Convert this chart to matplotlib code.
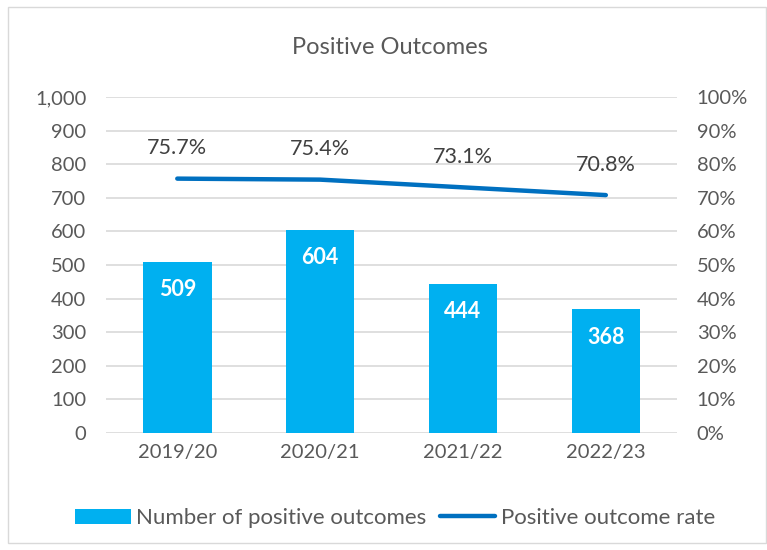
import matplotlib.pyplot as plt
from matplotlib.patches import Rectangle
from matplotlib.ticker import FuncFormatter, MultipleLocator

# datos
periodos = ["2019/20", "2020/21", "2021/22", "2022/23"]
resultados_positivos = [509, 604, 444, 368]
tasa_positiva = [0.757, 0.754, 0.731, 0.708]

plt.rcParams['font.family'] = ['Lato', 'DejaVu Sans']

color_barra = '#00B0F0'
color_linea = '#0070C0'
color_texto = '#595959'

fig = plt.figure(figsize=(7.67, 5.5), dpi=100)
ax = fig.add_axes([0.138, 0.2127, 0.745, 0.611])
ax2 = ax.twinx()

# marco del area del grafico
fig.patches.append(Rectangle((8 / 767, 7 / 550), 758 / 767, 536 / 550,
                             transform=fig.transFigure, fill=False,
                             edgecolor='#D9D9D9', linewidth=1.0))

x = list(range(len(periodos)))
barras = ax.bar(x, resultados_positivos, width=0.48, color=color_barra,
                label='Number of positive outcomes', zorder=2)
for xi, v in zip(x, resultados_positivos):
    ax.annotate(f"{v}", (xi, v), xytext=(0, -20), textcoords='offset points',
                ha='center', va='center', color='white', fontsize=15.5,
                fontweight='bold')

ax.set_xlim(-0.5, len(periodos) - 0.5)
ax.set_ylim(0, 1000)
ax.yaxis.set_major_locator(MultipleLocator(100))
ax.yaxis.set_major_formatter(FuncFormatter(lambda v, p: f"{int(v):,}"))
ax.grid(axis='y', color='#D9D9D9', linewidth=1.2, zorder=0)
ax.set_axisbelow(True)
ax.set_xticks(x)
ax.set_xticklabels(periodos)

linea, = ax2.plot(x, tasa_positiva, color=color_linea, linewidth=3.2,
                  solid_capstyle='round', label='Positive outcome rate', zorder=3)
for xi, v in zip(x, tasa_positiva):
    ax2.annotate(f"{v * 100:.1f}%", (xi, v), xytext=(0, 22),
                 textcoords='offset points', ha='center', va='center',
                 color='#404040', fontsize=15.5)
ax2.set_ylim(0, 1)
ax2.yaxis.set_major_locator(MultipleLocator(0.1))
ax2.yaxis.set_major_formatter(FuncFormatter(lambda v, p: f"{v * 100:.0f}%"))

for a in (ax, ax2):
    for s in a.spines.values():
        s.set_visible(False)
    a.tick_params(length=0, labelsize=14.5, labelcolor=color_texto)
ax.tick_params(axis='y', pad=14)
ax2.tick_params(axis='y', pad=14)
ax.tick_params(axis='x', pad=8)

fig.text(0.508, 0.913, "Positive Outcomes", ha='center', va='center',
         fontsize=17, color=color_texto)

fig.legend([barras, linea], ['Number of positive outcomes', 'Positive outcome rate'],
           loc='center', bbox_to_anchor=(0.515, 0.058), ncol=2, frameon=False,
           fontsize=16, labelcolor=color_texto, handlelength=2.5,
           handletextpad=0.25, columnspacing=0.6)

fig.savefig("out.png", dpi=100)
